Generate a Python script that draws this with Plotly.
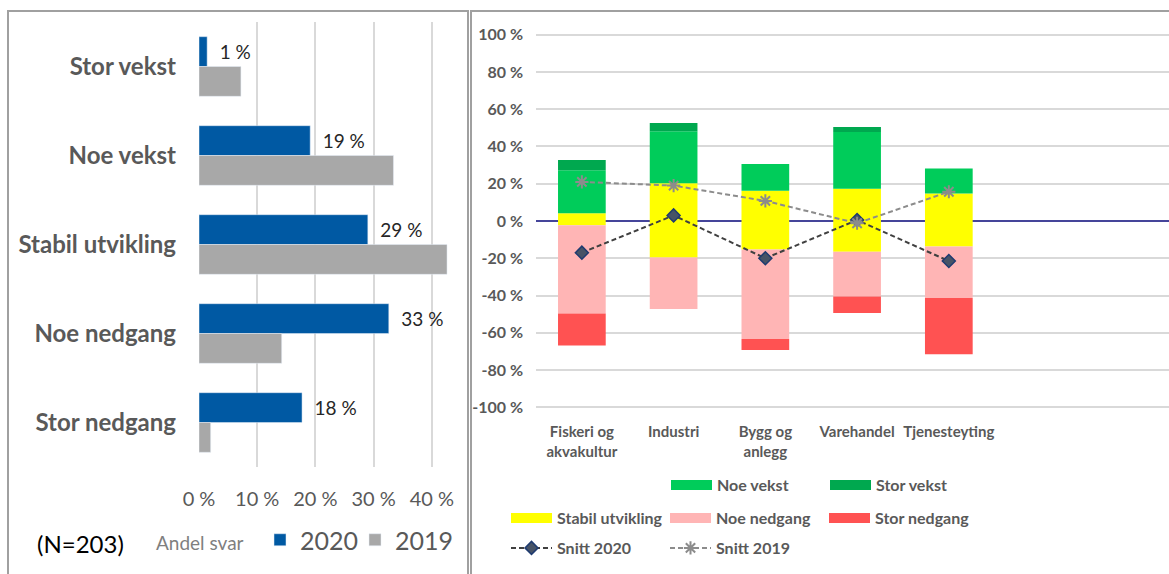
import numpy as np
import plotly.graph_objects as go

W, H = 1169, 574
FONT = "Lato"
GREY_TXT = "#595959"

# left panel: share of answers (%)
answers = ["Stor vekst", "Noe vekst", "Stabil utvikling", "Noe nedgang", "Stor nedgang"]
share_2020 = [1.4, 19.1, 29.0, 32.6, 17.7]
share_2019 = [7.2, 33.4, 42.6, 14.2, 2.0]
share_ticks = [0, 10, 20, 30, 40]

# right panel: balance per industry (%)
industries = ["Fiskeri og<br>akvakultur", "Industri", "Bygg og<br>anlegg", "Varehandel", "Tjenesteyting"]
stabil_up = [4.2, 20.2, 16.3, 17.3, 14.7]
stabil_down = [-2.3, -19.6, -15.3, -16.5, -13.7]
noe_vekst = [23.0, 28.0, 14.3, 30.5, 13.5]
stor_vekst = [5.5, 4.4, 0.0, 2.6, 0.0]
noe_nedgang = [-47.3, -27.7, -48.0, -24.0, -27.7]
stor_nedgang = [-17.2, 0.0, -6.0, -8.9, -30.1]
snitt_2020 = [-17.0, 3.0, -20.0, 0.5, -21.5]
snitt_2019 = [21.0, 19.0, 10.8, -1.2, 15.7]
balance_ticks = [100, 80, 60, 40, 20, 0, -20, -40, -60, -80, -100]

COLORS = {
    "Stabil utvikling": "#FFFF00",
    "Noe vekst": "#00CC5A",
    "Stor vekst": "#00A84F",
    "Noe nedgang": "#FFB5B5",
    "Stor nedgang": "#FF5252",
}


def px(x):
    return x / W


def py(y):
    return 1 - y / H


fig = go.Figure()

# ---- left: grouped horizontal bars (drawn in overlay mode with offsets)
fig.add_trace(go.Bar(
    y=answers, x=share_2020, orientation="h", name="2020",
    marker_color="#0059A3", width=0.335, offset=-0.335,
    texttemplate="\u2002%{x:.0f} %", textposition="outside", cliponaxis=False,
    textfont=dict(family=FONT, size=19, color="#262626"),
    xaxis="x", yaxis="y", legend="legend",
))
fig.add_trace(go.Bar(
    y=answers, x=share_2019, orientation="h", name="2019",
    marker_color="#A8A8A8", width=0.335, offset=0,
    xaxis="x", yaxis="y", legend="legend5",
))

# ---- right: stacked bars, positive side and negative side
up_base = np.cumsum([np.zeros(5), stabil_up, noe_vekst], axis=0)
down_base = np.cumsum([np.zeros(5), stabil_down, noe_nedgang], axis=0)

segments = [
    ("Stabil utvikling", stabil_up, up_base[0]),
    ("Stabil utvikling", stabil_down, down_base[0]),
    ("Noe vekst", noe_vekst, up_base[1]),
    ("Stor vekst", stor_vekst, up_base[2]),
    ("Noe nedgang", noe_nedgang, down_base[1]),
    ("Stor nedgang", stor_nedgang, down_base[2]),
]
for name, vals, base in segments:
    fig.add_trace(go.Bar(
        x=industries, y=vals, base=base, name=name, showlegend=False,
        marker_color=COLORS[name], marker_line_width=0,
        width=0.52, offset=-0.26, xaxis="x2", yaxis="y2",
    ))

fig.add_trace(go.Scatter(
    x=industries, y=snitt_2020, name="Snitt 2020", mode="lines+markers",
    line=dict(color="#404040", width=2, dash="5px,3px"),
    marker=dict(symbol="diamond", size=10, color="#475366",
                line=dict(color="#1F3B70", width=1.5)),
    xaxis="x2", yaxis="y2", legend="legend4",
))
fig.add_trace(go.Scatter(
    x=industries, y=snitt_2019, name="Snitt 2019", mode="lines+markers",
    line=dict(color="#8C8C8C", width=2, dash="5px,3px"),
    marker=dict(symbol="asterisk-open", size=11,
                line=dict(color="#808080", width=2)),
    xaxis="x2", yaxis="y2", legend="legend4",
))

# wide colour swatches for the right-hand legend (entries only, no data)
for name, leg in [("Noe vekst", "legend2"), ("Stor vekst", "legend2"),
                  ("Stabil utvikling", "legend3"), ("Noe nedgang", "legend3"),
                  ("Stor nedgang", "legend3")]:
    fig.add_trace(go.Scatter(
        x=[None], y=[None], mode="lines", name=name, legend=leg,
        line=dict(color=COLORS[name], width=12),
        xaxis="x2", yaxis="y2", hoverinfo="skip",
    ))

leg_font = dict(family=FONT, size=16, color=GREY_TXT, weight="bold")
leg_common = dict(orientation="h", yanchor="middle", bgcolor="rgba(0,0,0,0)",
                  entrywidthmode="pixels", entrywidth=103, font=leg_font,
                  traceorder="normal", itemwidth=41)
year_leg = dict(orientation="h", yanchor="middle", bgcolor="rgba(0,0,0,0)",
                font=dict(family=FONT, size=25, color=GREY_TXT))

fig.update_layout(
    width=W, height=H,
    margin=dict(l=0, r=0, t=0, b=0, autoexpand=False),
    paper_bgcolor="white", plot_bgcolor="white",
    barmode="overlay",
    font=dict(family=FONT, color=GREY_TXT),
    xaxis=dict(domain=[px(199), px(461)], range=[0, 45], anchor="y",
               tickvals=share_ticks, ticktext=[f"{v} %" for v in share_ticks],
               showgrid=True, gridcolor="#D9D9D9", gridwidth=1.5,
               zeroline=False, showline=False, ticklabelstandoff=18,
               tickfont=dict(family=FONT, size=20, color=GREY_TXT)),
    yaxis=dict(domain=[py(467), py(22)], type="category", anchor="x",
               range=[4.5, -0.5], showgrid=False, ticklabelstandoff=22,
               tickfont=dict(family=FONT, size=24, color=GREY_TXT, weight="bold")),
    xaxis2=dict(domain=[px(536), 1], type="category", anchor="y2",
                range=[-0.5, 6.4], showgrid=False, ticklabelstandoff=10,
                tickfont=dict(family=FONT, size=15, color=GREY_TXT, weight="bold")),
    yaxis2=dict(domain=[py(411), py(31)], anchor="x2", range=[-102, 102],
                tickvals=balance_ticks,
                ticktext=[f"{v} %" for v in balance_ticks],
                showgrid=True, gridcolor="#D9D9D9", gridwidth=1.5,
                zeroline=True, zerolinecolor="#45459A", zerolinewidth=1.5,
                ticklabelstandoff=12,
                tickfont=dict(family=FONT, size=16, color=GREY_TXT, weight="bold")),
    legend=dict(x=px(260), y=py(540), **year_leg),
    legend5=dict(x=px(355), y=py(540), **year_leg),
    legend2=dict(x=px(666), y=py(485), **leg_common),
    legend3=dict(x=px(506), y=py(518), **leg_common),
    legend4=dict(x=px(506), y=py(548), **leg_common),
    annotations=[
        dict(text="(N=203)", x=px(35), y=py(543), xref="paper", yref="paper",
             xanchor="left", yanchor="middle", showarrow=False,
             font=dict(family=FONT, size=24, color="#000000")),
        dict(text="Andel svar", x=px(154), y=py(542), xref="paper", yref="paper",
             xanchor="left", yanchor="middle", showarrow=False,
             font=dict(family=FONT, size=19, color="#7F7F7F")),
    ],
    shapes=[
        dict(type="rect", xref="paper", yref="paper", x0=px(8), x1=px(468),
             y0=py(590), y1=py(11), line=dict(color="#A0A0A0", width=2)),
        dict(type="rect", xref="paper", yref="paper", x0=px(471), x1=px(1180),
             y0=py(590), y1=py(11), line=dict(color="#A0A0A0", width=2)),
    ],
)

# the page body has a default 8px margin; drop it so the figure fills the window
fig.write_html("out.html", config={"displayModeBar": False},
               post_script="document.body.style.margin='0';")
